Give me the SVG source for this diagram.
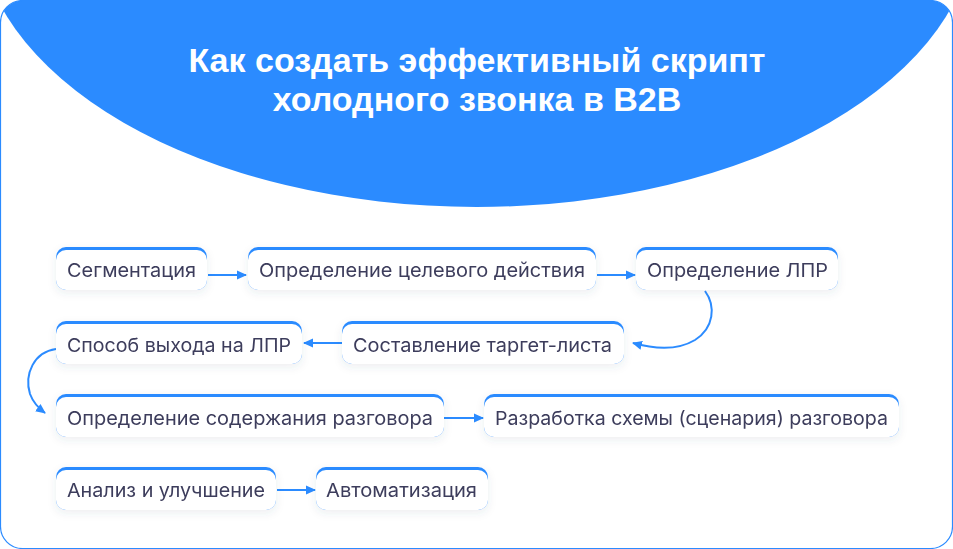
<svg xmlns="http://www.w3.org/2000/svg" width="953" height="549" viewBox="0 0 953 549">
<defs>
<clipPath id="frameClip"><rect x="0.5" y="0.5" width="952" height="548" rx="22" ry="22"/></clipPath>
<filter id="sh" x="-10%" y="-30%" width="120%" height="170%">
<feDropShadow dx="0" dy="3" stdDeviation="4" flood-color="#3a4a6b" flood-opacity="0.09"/>
</filter>
<marker id="ah" markerWidth="10" markerHeight="10" refX="9" refY="5" orient="auto" markerUnits="userSpaceOnUse">
<path d="M0,0.5 L10,5 L0,9.5 Z" fill="#2B8BFF"/>
</marker>
<style>
.title{font-family:"Liberation Sans",Arial,sans-serif;font-weight:700;font-size:34px;fill:#ffffff;text-anchor:middle}
.lbl{font-family:Inter,"Liberation Sans",Arial,sans-serif;font-size:19px;fill:#3D3D5C}
.top{fill:#2B8BFF}
.box{fill:#ffffff}
.con{fill:none;stroke:#2B8BFF;stroke-width:2}
</style>
</defs>
<g id="background">
<rect x="0.5" y="0.5" width="952" height="548" rx="22" ry="22" fill="#ffffff"/>
<ellipse cx="476.5" cy="-81" rx="499" ry="288" fill="#2B8BFF" clip-path="url(#frameClip)"/>
<rect x="0.5" y="0.5" width="952" height="548" rx="22" ry="22" fill="none" stroke="#2B8BFF" stroke-width="1.2"/>
</g>
<g id="title">
<text class="title" x="477" y="72">Как создать эффективный скрипт</text>
<text class="title" x="477" y="111">холодного звонка в B2B</text>
</g>
<g id="connectors">
<line class="con" x1="208" y1="275" x2="246" y2="275" marker-end="url(#ah)"/>
<line class="con" x1="597" y1="275" x2="635" y2="275" marker-end="url(#ah)"/>
<path class="con" d="M705,291 C716,306 714,328 695,340 C680,349 658,350 633,343" marker-end="url(#ah)"/>
<line class="con" x1="342" y1="343" x2="304" y2="343" marker-end="url(#ah)"/>
<path class="con" d="M56,349 C34,352 24,374 30,394 C33,402 37,407 45,413" marker-end="url(#ah)"/>
<line class="con" x1="444" y1="418" x2="483" y2="418" marker-end="url(#ah)"/>
<line class="con" x1="277" y1="490" x2="315" y2="490" marker-end="url(#ah)"/>
</g>
<g id="n1" filter="url(#sh)"><rect class="top" x="56" y="247" width="151" height="43" rx="10"/><rect class="box" x="56" y="250" width="151" height="40" rx="10"/><text class="lbl" x="67" y="277" textLength="129" lengthAdjust="spacingAndGlyphs">Сегментация</text></g>
<g id="n2" filter="url(#sh)"><rect class="top" x="248" y="247" width="348" height="43" rx="10"/><rect class="box" x="248" y="250" width="348" height="40" rx="10"/><text class="lbl" x="259" y="277" textLength="326" lengthAdjust="spacingAndGlyphs">Определение целевого действия</text></g>
<g id="n3" filter="url(#sh)"><rect class="top" x="636" y="247" width="202" height="43" rx="10"/><rect class="box" x="636" y="250" width="202" height="40" rx="10"/><text class="lbl" x="647" y="277" textLength="181" lengthAdjust="spacingAndGlyphs">Определение ЛПР</text></g>
<g id="n4" filter="url(#sh)"><rect class="top" x="56" y="321" width="246" height="43" rx="10"/><rect class="box" x="56" y="324" width="246" height="40" rx="10"/><text class="lbl" x="67" y="352" textLength="224" lengthAdjust="spacingAndGlyphs">Способ выхода на ЛПР</text></g>
<g id="n5" filter="url(#sh)"><rect class="top" x="342" y="321" width="282" height="43" rx="10"/><rect class="box" x="342" y="324" width="282" height="40" rx="10"/><text class="lbl" x="353" y="352" textLength="259" lengthAdjust="spacingAndGlyphs">Составление таргет-листа</text></g>
<g id="n6" filter="url(#sh)"><rect class="top" x="56" y="394" width="388" height="43" rx="10"/><rect class="box" x="56" y="397" width="388" height="40" rx="10"/><text class="lbl" x="67" y="425" textLength="366" lengthAdjust="spacingAndGlyphs">Определение содержания разговора</text></g>
<g id="n7" filter="url(#sh)"><rect class="top" x="484" y="394" width="415" height="43" rx="10"/><rect class="box" x="484" y="397" width="415" height="40" rx="10"/><text class="lbl" x="495" y="425" textLength="393" lengthAdjust="spacingAndGlyphs">Разработка схемы (сценария) разговора</text></g>
<g id="n8" filter="url(#sh)"><rect class="top" x="56" y="467" width="220" height="43" rx="10"/><rect class="box" x="56" y="470" width="220" height="40" rx="10"/><text class="lbl" x="67" y="497" textLength="198" lengthAdjust="spacingAndGlyphs">Анализ и улучшение</text></g>
<g id="n9" filter="url(#sh)"><rect class="top" x="316" y="467" width="172" height="43" rx="10"/><rect class="box" x="316" y="470" width="172" height="40" rx="10"/><text class="lbl" x="326" y="497" textLength="151" lengthAdjust="spacingAndGlyphs">Автоматизация</text></g>
</svg>
